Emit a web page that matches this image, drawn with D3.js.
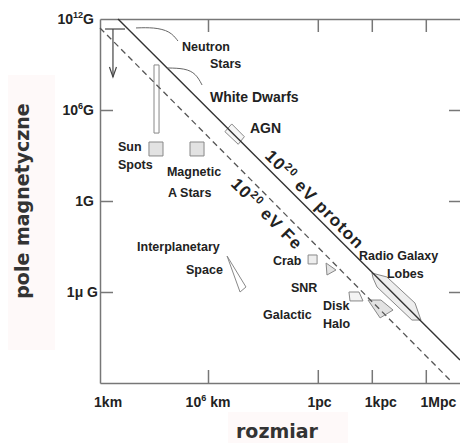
<!DOCTYPE html>
<html>
<head>
<meta charset="utf-8">
<script src="https://cdn.jsdelivr.net/npm/d3@7"></script>
<style>
body { margin: 0; background: #fff; }
text { font-family: "Liberation Sans", Arial, sans-serif; font-weight: bold; fill: #222; }
.axis path, .axis line { stroke: #777; stroke-width: 1.5; }
.title { font-family: "DejaVu Sans", sans-serif; font-size: 19px; fill: #333; }
</style>
</head>
<body>
<script>
// SVG size
const w = 460;
const h = 443;

// x: log10(size / km), y: log10(B / gauss)
const xTickValues = [0, 6, 12.1, 15.1, 18.1];
const xTickLabels = [["1km"], ["10", "6", " km"], ["1pc"], ["1kpc"], ["1Mpc"]];
const xLabelAt = [0.45, 6, 12.2, 15.6, 18.8];
const yTickValues = [12, 6, 0, -6];
const yTickLabels = [["10", "12", "G"], ["10", "6", "G"], ["1G"], ["1\u03bc G"]];

// maximum energy lines
const protonLine = [[1.0, 12], [20, -10.48]];
const ironLine = [[0, 11.41], [19.44, -11.8]];

// objects (polygon corners)
const whiteDwarfs = [[3.0, 8.97], [3.28, 8.97], [3.28, 4.48], [3.0, 4.48]];
const sunSpots = [[2.72, 3.89], [3.5, 3.89], [3.5, 2.97], [2.72, 2.97]];
const magStars = [[5.0, 3.89], [5.78, 3.89], [5.78, 2.97], [5.0, 2.97]];
const agn = [[7.32, 5.08], [8.02, 4.24], [7.68, 3.74], [6.94, 4.57]];
const interplanetary = [[7.06, -3.63], [7.78, -6.0], [8.11, -5.67]];
const crab = [[11.56, -3.56], [12.06, -3.56], [12.06, -4.15], [11.56, -4.15]];
const snr = [[12.56, -4.09], [12.61, -4.88], [13.11, -4.55]];
const disk = [[13.83, -6.0], [14.39, -6.0], [14.61, -6.59], [13.89, -6.59]];
const halo = [[14.89, -6.53], [15.61, -6.53], [16.28, -7.19], [15.56, -7.71]];
const lobes = [[15.11, -4.75], [15.94, -5.01], [17.5, -6.73], [17.83, -7.85],
               [17.33, -7.85], [15.39, -5.67], [15.17, -5.08]];

// neutron star range + pointers
const neutronBar = [[0.28, 11.34], [1.39, 11.34]];
const neutronArrow = [[0.72, 11.34], [0.72, 8.18]];
const neutronPointer = [[2.0, 11.41], [3.0, 11.45], [3.9, 11.2], [4.33, 10.55]];
const dwarfPointer = [[3.72, 8.77], [4.72, 8.75], [5.33, 8.4], [5.67, 7.65]];

// text labels (left edge, baseline)
const labels = [
    ["Neutron", 4.56, 9.89], ["Stars", 6.11, 8.77], ["White Dwarfs", 6.11, 6.53],
    ["AGN", 8.33, 4.48], ["Sun", 1.0, 3.30], ["Spots", 1.0, 2.11],
    ["Magnetic", 3.72, 1.65], ["A Stars", 3.78, 0.26],
    ["Interplanetary", 2.06, -3.30], ["Space", 4.78, -4.81],
    ["Crab", 9.61, -4.22], ["SNR", 10.61, -6.0], ["Galactic", 9.06, -7.78],
    ["Disk", 12.39, -7.19], ["Halo", 12.39, -8.37],
    ["Radio Galaxy", 14.39, -3.89], ["Lobes", 15.94, -5.08]
];
const bigLabels = ["White Dwarfs", "AGN"];

// X Scale
const xScale = d3.scaleLinear().domain([0, 20]).range([100, 460]);
// Y Scale
const yScale = d3.scaleLinear().domain([-12, 12]).range([383, 19]);

const svg = d3.select("body")
    .append("svg")
    .attr("width", w)
    .attr("height", h);

// faint backdrop behind the axis titles
svg.append("rect").attr("x", 8).attr("y", 75).attr("width", 47).attr("height", 275).attr("fill", "#fef9f9");
svg.append("rect").attr("x", 228).attr("y", 412).attr("width", 120).attr("height", 31).attr("fill", "#fef9f9");

// text with optional superscript
function richText(sel, parts, size) {
    sel.append("tspan").text(parts[0]);
    if (parts.length > 1) {
        sel.append("tspan").attr("font-size", size * 0.65).attr("dy", -size * 0.4).text(parts[1]);
        sel.append("tspan").attr("dy", size * 0.4).text(parts[2]);
    }
}

// Axes (ticks point inward)
svg.append("g").attr("class", "axis")
    .attr("transform", `translate(0, ${yScale(-12)})`)
    .call(d3.axisBottom(xScale).tickValues(xTickValues.slice(1)).tickSize(-13).tickSizeOuter(0).tickFormat(""));
svg.append("g").attr("class", "axis")
    .attr("transform", `translate(0, ${yScale(12)})`)
    .call(d3.axisTop(xScale).tickValues(xTickValues.slice(1)).tickSize(-13).tickSizeOuter(0).tickFormat(""));
svg.append("g").attr("class", "axis")
    .attr("transform", `translate(${xScale(0)}, 0)`)
    .call(d3.axisLeft(yScale).tickValues(yTickValues.slice(1)).tickSize(-13).tickSizeOuter(0).tickFormat(""));
svg.append("g").attr("class", "axis")
    .attr("transform", `translate(${xScale(20) + 1}, 0)`)
    .call(d3.axisRight(yScale).tickValues(yTickValues.slice(1)).tickSize(-12).tickSizeOuter(0).tickFormat(""));

// tick labels
yTickValues.forEach((v, i) => {
    const t = svg.append("text")
        .attr("x", i === 3 ? 98 : 94)
        .attr("y", yScale(v) + 5)
        .attr("text-anchor", "end")
        .attr("font-size", 14);
    richText(t, yTickLabels[i], 14);
});
xTickValues.forEach((v, i) => {
    const t = svg.append("text")
        .attr("x", xScale(xLabelAt[i]))
        .attr("y", yScale(-12) + 24)
        .attr("text-anchor", "middle")
        .attr("font-size", 14);
    richText(t, xTickLabels[i], 14);
});

// Axis titles
svg.append("text").attr("class", "title")
    .attr("transform", "rotate(-90)")
    .attr("x", -201).attr("y", 29)
    .attr("text-anchor", "middle")
    .text("pole magnetyczne");
svg.append("text").attr("class", "title")
    .attr("x", 277).attr("y", 438)
    .attr("text-anchor", "middle")
    .text("rozmiar");

const line = d3.line().x(d => xScale(d[0])).y(d => yScale(d[1]));
const curve = d3.line().x(d => xScale(d[0])).y(d => yScale(d[1])).curve(d3.curveBasis);

// Objects
const shapes = [
    [whiteDwarfs, "#fff"], [sunSpots, "#e2e2e2"], [magStars, "#e2e2e2"], [agn, "#f6f6f6"],
    [interplanetary, "#fff"], [crab, "#eee"], [snr, "#e4e4e4"], [disk, "#f4f4f4"],
    [halo, "#e2e2e2"], [lobes, "#eee"]
];
shapes.forEach(s => {
    svg.append("path")
        .attr("d", line(s[0]) + "Z")
        .attr("fill", s[1])
        .attr("stroke", "#888")
        .attr("stroke-width", 1);
});

// Proton line
svg.append("path").attr("d", line(protonLine))
    .attr("fill", "none").attr("stroke", "#333").attr("stroke-width", 1.4);
// Fe line
svg.append("path").attr("d", line(ironLine))
    .attr("fill", "none").attr("stroke", "#555").attr("stroke-width", 1.3)
    .attr("stroke-dasharray", "6,4");

// Neutron star range
svg.append("path").attr("d", line(neutronBar)).attr("stroke", "#444").attr("stroke-width", 1.2);
svg.append("path").attr("d", line(neutronArrow)).attr("stroke", "#444").attr("stroke-width", 1.2);
const tip = [xScale(neutronArrow[1][0]), yScale(neutronArrow[1][1])];
svg.append("path")
    .attr("d", `M${tip[0] - 3.5},${tip[1] - 10}L${tip[0]},${tip[1]}L${tip[0] + 3.5},${tip[1] - 10}`)
    .attr("fill", "none").attr("stroke", "#444").attr("stroke-width", 1.2);

// pointers
[neutronPointer, dwarfPointer].forEach(p => {
    svg.append("path").attr("d", curve(p))
        .attr("fill", "none").attr("stroke", "#666").attr("stroke-width", 1);
});

// Labels
labels.forEach(l => {
    svg.append("text")
        .attr("x", xScale(l[1]))
        .attr("y", yScale(l[2]))
        .attr("font-size", bigLabels.includes(l[0]) ? 14 : 12.5)
        .text(l[0]);
});

// rotated line labels
function lineLabel(pts, at, tail) {
    const a = Math.atan2(yScale(pts[1][1]) - yScale(pts[0][1]),
                         xScale(pts[1][0]) - xScale(pts[0][0])) * 180 / Math.PI;
    const t = svg.append("text")
        .attr("transform", `translate(${xScale(at[0])}, ${yScale(at[1])}) rotate(${a})`)
        .attr("font-size", 17)
        .attr("letter-spacing", 1.2);
    richText(t, ["10", "20", tail], 17);
}
lineLabel(protonLine, [9.11, 2.90], " eV proton");
lineLabel(ironLine, [7.22, 1.06], " eV Fe");
</script>
</body>
</html>
